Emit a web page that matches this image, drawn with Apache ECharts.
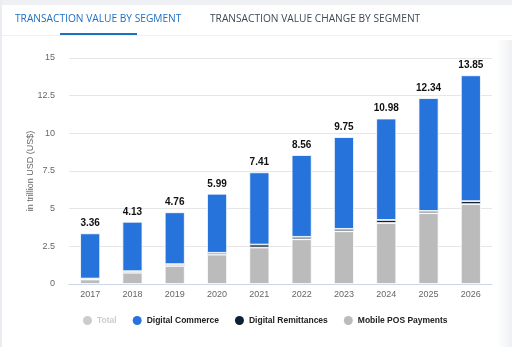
<!DOCTYPE html>
<html>
<head>
<meta charset="utf-8">
<script src="https://cdn.jsdelivr.net/npm/echarts@6/dist/echarts.min.js"></script>
<style>
  html, body { margin: 0; padding: 0; background: #fff; }
  #chart { width: 512px; height: 347px; }
</style>
</head>
<body>
<div id="chart"></div>
<script>
// Transaction value by segment, trillion USD
const years = ['2017', '2018', '2019', '2020', '2021', '2022', '2023', '2024', '2025', '2026'];
const totals = [3.36, 4.13, 4.76, 5.99, 7.41, 8.56, 9.75, 10.98, 12.34, 13.85];
const mobilePos = [0.3, 0.75, 1.2, 1.95, 2.42, 2.97, 3.5, 4.05, 4.7, 5.3];
const remittances = [0.06, 0.1, 0.12, 0.12, 0.2, 0.16, 0.16, 0.2, 0.15, 0.2];
const commerce = [3.0, 3.28, 3.44, 3.92, 4.79, 5.43, 6.09, 6.73, 7.49, 8.35];
const yTicks = [0, 2.5, 5, 7.5, 10, 12.5, 15];

const chart = echarts.init(document.getElementById('chart'), null, { renderer: 'canvas' });

const barBase = {
  type: 'bar',
  stack: 'seg',
  barWidth: 20,
  itemStyle: { borderColor: '#ffffff', borderWidth: 0.8 }
};

chart.setOption({
  animation: false,
  backgroundColor: '#ffffff',
  textStyle: { fontFamily: 'Arial, "Liberation Sans", sans-serif' },
  graphic: [
    { type: 'rect', shape: { x: 0, y: 0, width: 512, height: 5 }, style: { fill: '#eef0f3' } },
    { type: 'rect', shape: { x: 0, y: 0, width: 2, height: 347 }, style: { fill: '#e9ecf0' } },
    { type: 'rect', shape: { x: 2, y: 35, width: 510, height: 1 }, style: { fill: '#eef0f3' } },
    {
      type: 'rect', shape: { x: 497, y: 40, width: 15, height: 307 },
      style: { fill: new echarts.graphic.LinearGradient(0, 0, 1, 0, [
        { offset: 0, color: 'rgba(238,240,243,0)' }, { offset: 1, color: 'rgba(238,240,243,1)' }
      ]) }
    },
    { type: 'text', left: 15, top: 14, style: { text: 'TRANSACTION VALUE BY SEGMENT', fill: '#1f6fc3', font: '500 10.2px "Open Sans", sans-serif' } },
    { type: 'text', left: 210, top: 14, style: { text: 'TRANSACTION VALUE CHANGE BY SEGMENT', fill: '#3e4a57', font: '500 10.2px "Open Sans", sans-serif' } },
    { type: 'rect', shape: { x: 60, y: 33, width: 77, height: 2 }, style: { fill: '#1f6fc3' } }
  ],
  legend: {
    top: 311,
    left: 78,
    itemWidth: 9,
    itemHeight: 9,
    itemGap: 16,
    icon: 'circle',
    itemStyle: { borderWidth: 0 },
    data: ['Total', 'Digital Commerce', 'Digital Remittances', 'Mobile POS Payments'],
    selected: { 'Total': false },
    inactiveColor: '#cccccc',
    textStyle: { fontSize: 8.5, fontWeight: 'bold', color: '#222' }
  },
  grid: { left: 69, right: 20, top: 58, bottom: 63 },
  xAxis: {
    type: 'category',
    data: years,
    axisLine: { lineStyle: { color: '#ccd6eb' } },
    axisTick: { alignWithLabel: true, length: 5, lineStyle: { color: '#ccd6eb' } },
    axisLabel: { color: '#666', fontSize: 9, margin: 6 }
  },
  yAxis: {
    type: 'value',
    min: yTicks[0],
    max: yTicks[yTicks.length - 1],
    interval: 2.5,
    name: 'in trillion USD (US$)',
    nameLocation: 'middle',
    nameMoveOverlap: false,
    nameGap: 34,
    nameTextStyle: { color: '#666', fontSize: 9 },
    axisLabel: { color: '#666', fontSize: 9, margin: 14 },
    splitLine: { lineStyle: { color: '#e6e6e6' } }
  },
  series: [
    { name: 'Total', type: 'bar', data: totals, itemStyle: { color: '#cccccc' } },
    Object.assign({}, barBase, {
      name: 'Mobile POS Payments', data: mobilePos,
      itemStyle: Object.assign({}, barBase.itemStyle, { color: '#bbbbbb' })
    }),
    Object.assign({}, barBase, {
      name: 'Digital Remittances', data: remittances,
      itemStyle: Object.assign({}, barBase.itemStyle, { color: '#0e2033' })
    }),
    Object.assign({}, barBase, {
      name: 'Digital Commerce', data: commerce,
      itemStyle: Object.assign({}, barBase.itemStyle, { color: '#2673dc' }),
      label: {
        show: true, position: 'top', distance: 5,
        color: '#111', fontSize: 10, fontWeight: 'bold',
        formatter: p => totals[p.dataIndex].toFixed(2)
      }
    })
  ]
});
</script>
</body>
</html>
